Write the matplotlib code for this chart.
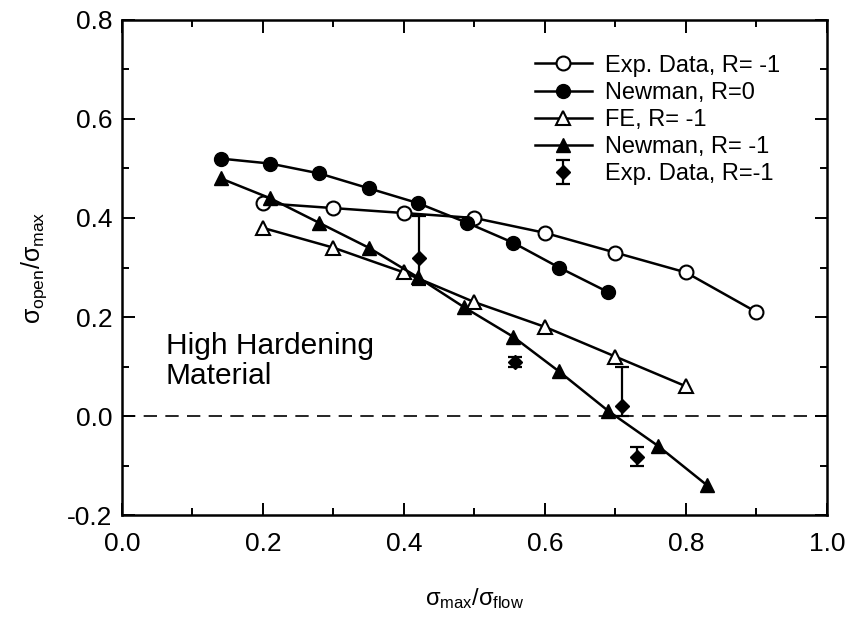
import matplotlib
matplotlib.use('Agg')
import matplotlib.pyplot as plt
from matplotlib.ticker import MultipleLocator

plt.rcParams['font.family'] = ['Liberation Sans', 'DejaVu Sans']
plt.rcParams['mathtext.fontset'] = 'custom'
plt.rcParams['mathtext.rm'] = 'Liberation Sans'
plt.rcParams['mathtext.it'] = 'Liberation Sans'

# Exp. Data, R=-1 (open circles)
exp_x = [0.2, 0.3, 0.4, 0.5, 0.6, 0.7, 0.8, 0.9]
exp_y = [0.43, 0.42, 0.41, 0.40, 0.37, 0.33, 0.29, 0.21]

# Newman, R=0 (filled circles)
new0_x = [0.14, 0.21, 0.28, 0.35, 0.42, 0.49, 0.555, 0.62, 0.69]
new0_y = [0.52, 0.51, 0.49, 0.46, 0.43, 0.39, 0.35, 0.30, 0.25]

# FE, R=-1 (open triangles)
fe_x = [0.2, 0.3, 0.4, 0.5, 0.6, 0.7, 0.8]
fe_y = [0.38, 0.34, 0.29, 0.23, 0.18, 0.12, 0.06]

# Newman, R=-1 (filled triangles)
newm1_x = [0.14, 0.21, 0.28, 0.35, 0.42, 0.485, 0.555, 0.62, 0.69, 0.76, 0.83]
newm1_y = [0.48, 0.44, 0.39, 0.34, 0.28, 0.22, 0.16, 0.09, 0.01, -0.06, -0.14]

# Exp. Data, R=-1 with error bars (diamonds)
dia_x = [0.422, 0.557, 0.71, 0.73]
dia_y = [0.32, 0.11, 0.02, -0.082]
dia_lo = [0.055, 0.01, 0.02, 0.02]
dia_hi = [0.085, 0.01, 0.08, 0.02]

fig = plt.figure(figsize=(8.49, 6.17), dpi=100)
ax = fig.add_axes([0.1437, 0.1653, 0.8303, 0.8023])

ax.axhline(0, color='black', linestyle=(0, (8, 5)), linewidth=1.2)

ax.plot(exp_x, exp_y, '-o', color='black', mfc='white', mec='black', ms=10, lw=1.8,
        mew=1.5, label='Exp. Data, R= -1')
ax.plot(new0_x, new0_y, '-o', color='black', ms=10, lw=1.8, label='Newman, R=0')
ax.plot(fe_x, fe_y, '-^', color='black', mfc='white', mec='black', ms=10, lw=1.8,
        mew=1.5, label='FE, R= -1')
ax.plot(newm1_x, newm1_y, '-^', color='black', ms=10, lw=1.8, label='Newman, R= -1')
ax.errorbar(dia_x, dia_y, yerr=[dia_lo, dia_hi], fmt='D', color='black', ms=7,
            capsize=5, elinewidth=1.6, capthick=1.6, label='Exp. Data, R=-1')

ax.set_xlim(0, 1.0)
ax.set_ylim(-0.2, 0.8)
ax.xaxis.set_major_locator(MultipleLocator(0.2))
ax.xaxis.set_minor_locator(MultipleLocator(0.1))
ax.yaxis.set_major_locator(MultipleLocator(0.2))
ax.yaxis.set_minor_locator(MultipleLocator(0.1))
ax.xaxis.set_major_formatter(plt.FormatStrFormatter('%.1f'))
ax.yaxis.set_major_formatter(plt.FormatStrFormatter('%.1f'))
ax.tick_params(which='both', direction='in', top=True, right=True, width=1.4)
ax.tick_params(which='major', length=9, labelsize=19)
ax.tick_params(axis='x', which='major', pad=12)
ax.tick_params(axis='y', which='major', pad=7)
ax.tick_params(which='minor', length=5)
for s in ax.spines.values():
    s.set_linewidth(1.8)

ax.set_xlabel(r'$\sigma_{\rm max}/\sigma_{\rm flow}$', fontsize=17, labelpad=22)
ax.set_ylabel(r'$\sigma_{\rm open}/\sigma_{\rm max}$', fontsize=18, labelpad=13)

ax.text(0.062, 0.17, 'High Hardening\nMaterial', fontsize=21.5, va='top', ha='left',
        linespacing=1.1)

ax.legend(loc='upper left', bbox_to_anchor=(0.586, 0.93), frameon=False, fontsize=17,
          handlelength=2.4, labelspacing=0.22, handletextpad=0.55, borderpad=0,
          borderaxespad=0)

fig.savefig('out.png', dpi=100)
